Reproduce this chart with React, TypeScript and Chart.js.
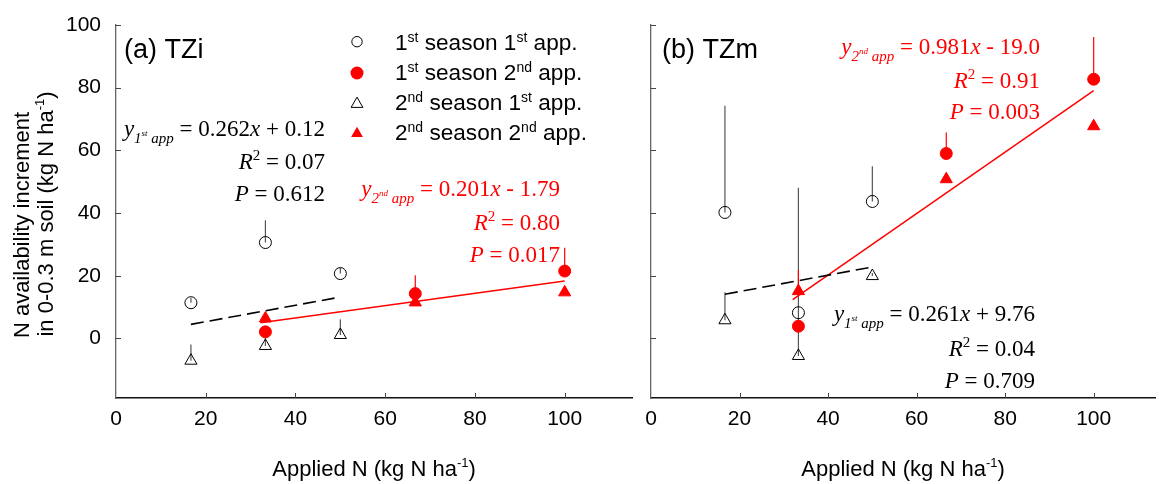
import React, { useEffect, useRef } from "react";
import { Chart, registerables } from "chart.js";
Chart.register(...registerables);

// ---------- data ----------
const nLevels1 = [16.7, 33.3, 50];
const nLevels2 = [33.3, 66.7, 100];

// Panel (a) TZi
const tziS1A1 = [11.4, 30.6, 20.7];
const tziS1A1Err = [1.5, 7.1, 1.8];
const tziS1A2 = [2.1, 14.3, 21.5];
const tziS1A2Err = [0, 5.9, 7.4];
const tziS2A1 = [-7.1, -2.4, 1.1];
const tziS2A1Err = [5.2, 4.5, 5.0];
const tziS2A2 = [6.4, 11.5, 14.7];
const tziS2A2Err = [0, 0, 0];
const tziFit1X = [16.7, 50];
const tziFit1Y = [4.5, 13.2];
const tziFit2X = [32.2, 100];
const tziFit2Y = [5.0, 18.3];

// Panel (b) TZm
const tzmS1A1 = [40.2, 8.2, 43.7];
const tzmS1A1Err = [34.0, 0, 11.2];
const tzmS1A2 = [3.9, 59.0, 82.7];
const tzmS1A2Err = [0, 6.7, 13.5];
const tzmS2A1 = [5.8, -5.6, 19.9];
const tzmS2A1Err = [8.9, 53.7, 1.0];
const tzmS2A2 = [15.1, 50.8, 67.7];
const tzmS2A2Err = [6.7, 0, 0];
const tzmFit1X = [16.7, 50];
const tzmFit1Y = [14.1, 22.8];
const tzmFit2X = [32, 100];
const tzmFit2Y = [12.4, 79.1];

const xTicks = [0, 20, 40, 60, 80, 100];
const yTicks = [0, 20, 40, 60, 80, 100];

// ---------- styling helpers ----------
const SANS = "'Liberation Sans', Arial, sans-serif";
const SERIF = "'Liberation Serif', 'Times New Roman', serif";
const RED = "#ff0000";

type Seg = { t: string; size: number; italic?: boolean; serif?: boolean; dy?: number };

function fontOf(s: Seg) {
  return `${s.italic ? "italic " : ""}${s.size}px ${s.serif ? SERIF : SANS}`;
}

function drawRuns(ctx: CanvasRenderingContext2D, segs: Seg[], x: number, y: number, align: string, color: string) {
  let w = 0;
  for (const s of segs) {
    ctx.font = fontOf(s);
    w += ctx.measureText(s.t).width;
  }
  let cx = align === "right" ? x - w : align === "center" ? x - w / 2 : x;
  ctx.fillStyle = color;
  ctx.textAlign = "left";
  ctx.textBaseline = "alphabetic";
  for (const s of segs) {
    ctx.font = fontOf(s);
    ctx.fillText(s.t, cx, y + (s.dy || 0));
    cx += ctx.measureText(s.t).width;
  }
}

const EQ = 23;
function eqSegs(sub: string, supr: string, rest: string, xcoef: string) {
  return [
    { t: "y", size: EQ, italic: true, serif: true },
    { t: sub, size: 15, italic: true, serif: true, dy: 7 },
    { t: supr, size: 9, italic: true, serif: true, dy: 0 },
    { t: " app", size: 15, italic: true, serif: true, dy: 7 },
    { t: " = " + xcoef, size: EQ, serif: true },
    { t: "x", size: EQ, italic: true, serif: true },
    { t: rest, size: EQ, serif: true },
  ] as Seg[];
}
function r2Segs(v: string) {
  return [
    { t: "R", size: EQ, italic: true, serif: true },
    { t: "2", size: 15, serif: true, dy: -9 },
    { t: " = " + v, size: EQ, serif: true },
  ] as Seg[];
}
function pSegs(v: string) {
  return [
    { t: "P", size: EQ, italic: true, serif: true },
    { t: " = " + v, size: EQ, serif: true },
  ] as Seg[];
}

function drawMarker(ctx: CanvasRenderingContext2D, style: string, x: number, y: number, r: number, filled: boolean, color: string) {
  ctx.beginPath();
  if (style === "circle") {
    ctx.arc(x, y, r, 0, Math.PI * 2);
  } else {
    let a = 0;
    ctx.moveTo(x + Math.sin(a) * r, y - Math.cos(a) * r);
    a += (2 * Math.PI) / 3;
    ctx.lineTo(x + Math.sin(a) * r, y - Math.cos(a) * r);
    a += (2 * Math.PI) / 3;
    ctx.lineTo(x + Math.sin(a) * r, y - Math.cos(a) * r);
    ctx.closePath();
  }
  if (filled) {
    ctx.fillStyle = color;
    ctx.fill();
  } else {
    ctx.strokeStyle = color;
    ctx.lineWidth = 1;
    ctx.stroke();
  }
}

function pts(xs: number[], ys: number[]) {
  return xs.map((x, i) => ({ x, y: ys[i] }));
}

function markerSet(xs: number[], ys: number[], err: number[], style: string, filled: boolean) {
  const color = filled ? RED : "#000";
  return {
    type: "scatter",
    data: pts(xs, ys),
    pointStyle: style,
    pointRadius: style === "circle" ? 6 : 7,
    pointBorderWidth: 1,
    pointBorderColor: color,
    pointBackgroundColor: filled ? RED : "rgba(0,0,0,0)",
    showLine: false,
    errUp: err,
    errColor: filled ? RED : "#555",
  } as any;
}

function fitSet(xs: number[], ys: number[], red: boolean) {
  return {
    type: "line",
    data: pts(xs, ys),
    borderColor: red ? RED : "#000",
    borderWidth: red ? 1.5 : 1.6,
    borderDash: red ? [] : [13, 6],
    pointRadius: 0,
    showLine: true,
    fill: false,
  } as any;
}

const errorBars = {
  id: "errorBars",
  beforeDatasetsDraw(chart: any) {
    const ctx = chart.ctx;
    const xs = chart.scales.x;
    const ys = chart.scales.y;
    ctx.save();
    chart.data.datasets.forEach((ds: any) => {
      if (!ds.errUp) return;
      ds.data.forEach((p: any, i: number) => {
        const e = ds.errUp[i];
        if (!e) return;
        const px = xs.getPixelForValue(p.x);
        ctx.beginPath();
        ctx.strokeStyle = ds.errColor;
        ctx.lineWidth = 1.2;
        ctx.moveTo(px, ys.getPixelForValue(p.y));
        ctx.lineTo(px, ys.getPixelForValue(p.y + e));
        ctx.stroke();
      });
    });
    ctx.restore();
  },
};

const inwardTicks = {
  id: "inwardTicks",
  afterDraw(chart: any) {
    const ctx = chart.ctx;
    const xs = chart.scales.x;
    const ys = chart.scales.y;
    const a = chart.chartArea;
    ctx.save();
    ctx.lineWidth = 1;
    ctx.strokeStyle = "#444";
    xTicks.forEach((v) => {
      if (v === 0) return;
      const px = Math.round(xs.getPixelForValue(v)) + 0.5;
      ctx.beginPath();
      ctx.moveTo(px, a.bottom);
      ctx.lineTo(px, a.bottom - 5);
      ctx.stroke();
    });
    yTicks.forEach((v) => {
      const py = Math.round(ys.getPixelForValue(v)) + 0.5;
      ctx.beginPath();
      ctx.moveTo(a.left, py);
      ctx.lineTo(a.left + 5, py);
      ctx.stroke();
    });
    ctx.restore();
  },
};

function makeOptions(xMax: number, yAxisWidth: number, showYLabels: boolean, padRight: number) {
  return {
    animation: false,
    responsive: false,
    maintainAspectRatio: false,
    devicePixelRatio: 1,
    layout: { padding: { left: 0, right: padRight, top: 25, bottom: 0 } },
    plugins: { legend: { display: false }, tooltip: { enabled: false } },
    scales: {
      x: {
        type: "linear",
        min: 0,
        max: xMax,
        ticks: {
          stepSize: 20,
          includeBounds: false,
          color: "#000",
          font: { family: SANS, size: 21 },
          padding: 9,
          maxRotation: 0,
        },
        grid: { display: false, drawTicks: false },
        border: { display: true, color: "#111", width: 1.5 },
        afterFit: (s: any) => {
          s.height = 86;
          s.paddingLeft = 0;
          s.paddingRight = 0;
        },
      },
      y: {
        type: "linear",
        min: -19,
        max: 100,
        ticks: {
          display: showYLabels,
          stepSize: 20,
          includeBounds: false,
          color: "#000",
          font: { family: SANS, size: 21 },
          padding: 15,
        },
        grid: { display: false, drawTicks: false },
        border: { display: true, color: "#666", width: 1.3 },
        afterFit: (s: any) => {
          s.width = yAxisWidth;
          s.paddingTop = 0;
          s.paddingBottom = 0;
        },
      },
    },
  } as any;
}

const xTitleSegs: Seg[] = [
  { t: "Applied N (kg N ha", size: 22 },
  { t: "-1", size: 13, dy: -9 },
  { t: ")", size: 22 },
];

const legendRows = [
  { y: 41.7, style: "circle", filled: false, a: "1", as: "st", b: "1", bs: "st" },
  { y: 73, style: "circle", filled: true, a: "1", as: "st", b: "2", bs: "nd" },
  { y: 104, style: "triangle", filled: false, a: "2", as: "nd", b: "1", bs: "st" },
  { y: 133.5, style: "triangle", filled: true, a: "2", as: "nd", b: "2", bs: "nd" },
];
const legendBaselines = [50, 80, 110, 140];

const annotateA = {
  id: "annotateA",
  afterDraw(chart: any) {
    const ctx = chart.ctx;
    const a = chart.chartArea;
    ctx.save();
    drawRuns(ctx, [{ t: "(a) TZi", size: 27 }], 124, 58, "left", "#000");
    legendRows.forEach((r, i) => {
      const rr = r.style === "circle" ? (r.filled ? 6.5 : 5.2) : 6.8;
      drawMarker(ctx, r.style, 357, r.y, rr, r.filled, r.filled ? RED : "#000");
      drawRuns(
        ctx,
        [
          { t: r.a, size: 22.6 },
          { t: r.as, size: 14, dy: -8 },
          { t: " season " + r.b, size: 22.6 },
          { t: r.bs, size: 14, dy: -8 },
          { t: " app.", size: 22.6 },
        ],
        395,
        legendBaselines[i],
        "left",
        "#000"
      );
    });
    drawRuns(ctx, eqSegs("1", "st", " + 0.12", "0.262"), 325, 136, "right", "#000");
    drawRuns(ctx, r2Segs("0.07"), 325, 169, "right", "#000");
    drawRuns(ctx, pSegs("0.612"), 325, 201, "right", "#000");
    drawRuns(ctx, eqSegs("2", "nd", " - 1.79", "0.201"), 560, 196, "right", RED);
    drawRuns(ctx, r2Segs("0.80"), 560, 230, "right", RED);
    drawRuns(ctx, pSegs("0.017"), 560, 262, "right", RED);
    ctx.save();
    ctx.translate(29, 225);
    ctx.rotate(-Math.PI / 2);
    drawRuns(ctx, [{ t: "N availability increment", size: 22 }], 0, 0, "center", "#000");
    ctx.restore();
    ctx.save();
    ctx.translate(53, 214);
    ctx.rotate(-Math.PI / 2);
    drawRuns(
      ctx,
      [
        { t: "in 0-0.3 m soil (kg N ha", size: 22 },
        { t: "-1", size: 13, dy: -9 },
        { t: ")", size: 22 },
      ],
      0,
      0,
      "center",
      "#000"
    );
    ctx.restore();
    drawRuns(ctx, xTitleSegs, (a.left + a.right) / 2, 476, "center", "#000");
    ctx.restore();
  },
};

const annotateB = {
  id: "annotateB",
  afterDraw(chart: any) {
    const ctx = chart.ctx;
    const a = chart.chartArea;
    ctx.save();
    drawRuns(ctx, [{ t: "(b) TZm", size: 27 }], 22, 58, "left", "#000");
    drawRuns(ctx, eqSegs("2", "nd", " - 19.0", "0.981"), 400, 54, "right", RED);
    drawRuns(ctx, r2Segs("0.91"), 400, 88, "right", RED);
    drawRuns(ctx, pSegs("0.003"), 400, 119, "right", RED);
    drawRuns(ctx, eqSegs("1", "st", " + 9.76", "0.261"), 395, 321, "right", "#000");
    drawRuns(ctx, r2Segs("0.04"), 395, 356, "right", "#000");
    drawRuns(ctx, pSegs("0.709"), 395, 388, "right", "#000");
    drawRuns(ctx, xTitleSegs, (a.left + a.right) / 2, 476, "center", "#000");
    ctx.restore();
  },
};

function Panel(props: { left: number; width: number; datasets: any[]; options: any; plugins: any[] }) {
  const ref = useRef<HTMLCanvasElement>(null);
  useEffect(() => {
    if (!ref.current) return;
    const chart = new Chart(ref.current, {
      type: "scatter",
      data: { datasets: props.datasets },
      options: props.options,
      plugins: props.plugins,
    } as any);
    return () => chart.destroy();
  }, []);
  return (
    <canvas
      ref={ref}
      width={props.width}
      height={484}
      style={{ position: "absolute", left: props.left, top: 0, width: props.width, height: 484 }}
    />
  );
}

export default function App() {
  const dsA = [
    fitSet(tziFit1X, tziFit1Y, false),
    fitSet(tziFit2X, tziFit2Y, true),
    markerSet(nLevels1, tziS1A1, tziS1A1Err, "circle", false),
    markerSet(nLevels1, tziS2A1, tziS2A1Err, "triangle", false),
    markerSet(nLevels2, tziS2A2, tziS2A2Err, "triangle", true),
    markerSet(nLevels2, tziS1A2, tziS1A2Err, "circle", true),
  ];
  const dsB = [
    fitSet(tzmFit1X, tzmFit1Y, false),
    fitSet(tzmFit2X, tzmFit2Y, true),
    markerSet(nLevels1, tzmS1A1, tzmS1A1Err, "circle", false),
    markerSet(nLevels1, tzmS2A1, tzmS2A1Err, "triangle", false),
    markerSet(nLevels2, tzmS2A2, tzmS2A2Err, "triangle", true),
    markerSet(nLevels2, tzmS1A2, tzmS1A2Err, "circle", true),
  ];
  return (
    <div style={{ position: "absolute", left: 0, top: 0, width: 1163, height: 484, background: "#fff", overflow: "hidden" }}>
      <Panel
        left={0}
        width={640}
        datasets={dsA}
        options={makeOptions(115, 116, true, 7)}
        plugins={[errorBars, inwardTicks, annotateA]}
      />
      <Panel
        left={640}
        width={523}
        datasets={dsB}
        options={makeOptions(113.85, 11, false, 0)}
        plugins={[errorBars, inwardTicks, annotateB]}
      />
    </div>
  );
}
